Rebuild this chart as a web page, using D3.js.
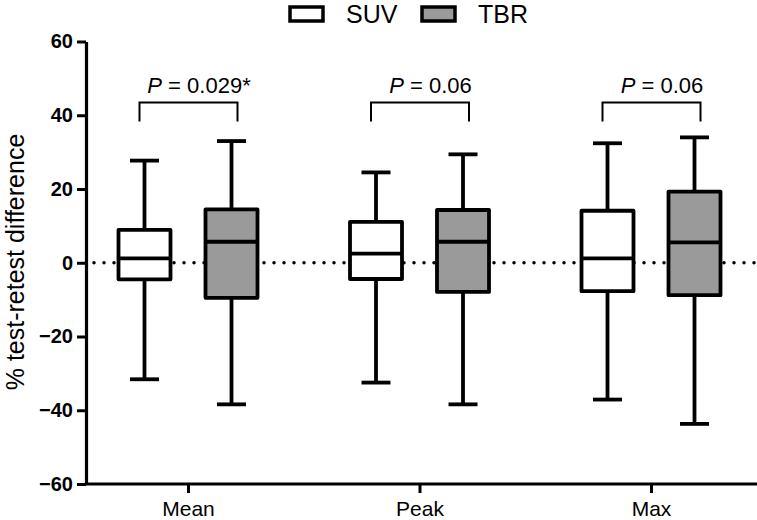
<!DOCTYPE html>
<html>
<head>
<meta charset="utf-8">
<script src="https://cdn.jsdelivr.net/npm/d3@7"></script>
<style>
  body { margin: 0; background: #fff; }
  svg { display: block; }
  text { font-family: "Liberation Sans", Arial, sans-serif; fill: #000; }
</style>
</head>
<body>
<svg id="chart" width="757" height="520"></svg>
<script>
// ---- data ----
const categories = ["Mean", "Peak", "Max"];
const seriesNames = ["SUV", "TBR"];
// [whiskerLow, q1, median, q3, whiskerHigh]
const suvStats = [
  [-31.6, -4.5, 1.2, 8.9, 27.7],
  [-32.5, -4.4, 2.5, 11.1, 24.5],
  [-37.1, -7.7, 1.2, 14.1, 32.4]
];
const tbrStats = [
  [-38.4, -9.5, 5.7, 14.5, 33.0],
  [-38.4, -7.9, 5.7, 14.3, 29.4],
  [-43.7, -8.8, 5.5, 19.3, 34.0]
];
const pLabels = ["P = 0.029*", "P = 0.06", "P = 0.06"];
const yTicks = [-60, -40, -20, 0, 20, 40, 60];

// ---- layout ----
const svg = d3.select("#chart");
const axisX = 86, axisTop = 41.5, axisBottom = 484, rightEdge = 757;
const y = d3.scaleLinear().domain([-60, 60]).range([axisBottom, axisTop]);
const x = d3.scalePoint().domain(categories).range([188, 651]);
const offset = 43.5, boxW = 52, capW = 29;
const colors = { SUV: "#ffffff", TBR: "#9a9a9a" };

// zero dotted line
svg.append("line")
  .attr("x1", axisX + 8).attr("x2", rightEdge - 2)
  .attr("y1", y(0)).attr("y2", y(0))
  .attr("stroke", "#000").attr("stroke-width", 3.5)
  .attr("stroke-linecap", "round").attr("stroke-dasharray", "0,10");

// boxes
function drawBox(stats, cx, fill) {
  const [lo, q1, med, q3, hi] = stats;
  const g = svg.append("g").attr("stroke", "#000").attr("stroke-width", 3.8);
  g.append("line").attr("x1", cx).attr("x2", cx).attr("y1", y(hi)).attr("y2", y(q3));
  g.append("line").attr("x1", cx).attr("x2", cx).attr("y1", y(q1)).attr("y2", y(lo));
  g.append("line").attr("x1", cx - capW / 2).attr("x2", cx + capW / 2).attr("y1", y(hi)).attr("y2", y(hi));
  g.append("line").attr("x1", cx - capW / 2).attr("x2", cx + capW / 2).attr("y1", y(lo)).attr("y2", y(lo));
  g.append("rect").attr("x", cx - boxW / 2).attr("width", boxW)
    .attr("y", y(q3)).attr("height", y(q1) - y(q3))
    .attr("fill", fill).attr("stroke-linejoin", "round");
  g.append("line").attr("x1", cx - boxW / 2).attr("x2", cx + boxW / 2).attr("y1", y(med)).attr("y2", y(med));
}
categories.forEach((c, i) => {
  drawBox(suvStats[i], x(c) - offset, colors.SUV);
  drawBox(tbrStats[i], x(c) + offset, colors.TBR);
});

// significance brackets
const brTop = 102.5, brBottom = 121.5;
categories.forEach((c, i) => {
  const l = x(c) - offset - 5, r = x(c) + offset + 6;
  svg.append("path")
    .attr("d", `M${l},${brBottom}V${brTop}H${r}V${brBottom}`)
    .attr("fill", "none").attr("stroke", "#000").attr("stroke-width", 2);
  const parts = pLabels[i].split(" ");
  const t = svg.append("text")
    .attr("x", x(c) + 11).attr("y", 93)
    .attr("text-anchor", "middle").attr("font-size", 22);
  t.append("tspan").attr("font-style", "italic").text(parts[0]);
  t.append("tspan").text(" " + parts.slice(1).join(" "));
});

// y axis
const yAxis = svg.append("g").attr("transform", `translate(${axisX},0)`)
  .call(d3.axisLeft(y).tickValues(yTicks).tickSize(9).tickSizeOuter(0).tickPadding(4));
yAxis.select(".domain").attr("stroke-width", 3.2).attr("stroke", "#000");
yAxis.selectAll(".tick line").attr("stroke-width", 3).attr("stroke", "#000");
yAxis.selectAll(".tick text").attr("font-size", 20).attr("font-weight", "bold")
  .attr("font-family", "Liberation Sans, Arial, sans-serif").attr("fill", "#000");

// x axis
svg.append("line").attr("x1", axisX).attr("x2", rightEdge)
  .attr("y1", axisBottom).attr("y2", axisBottom)
  .attr("stroke", "#000").attr("stroke-width", 3.2);
const xAxis = svg.append("g").attr("transform", `translate(0,${axisBottom})`)
  .call(d3.axisBottom(x).tickSize(9).tickSizeOuter(0).tickPadding(8));
xAxis.select(".domain").remove();
xAxis.selectAll(".tick line").attr("stroke-width", 3).attr("stroke", "#000");
xAxis.selectAll(".tick text").attr("font-size", 21)
  .attr("font-family", "Liberation Sans, Arial, sans-serif").attr("fill", "#000");

// y label
svg.append("text")
  .attr("transform", `translate(24,262) rotate(-90)`)
  .attr("text-anchor", "middle")
  .attr("font-size", 25)
  .text("% test-retest difference");

// legend
const legendX = [290, 422];
seriesNames.forEach((s, i) => {
  svg.append("rect").attr("x", legendX[i]).attr("y", 7).attr("width", 33).attr("height", 14)
    .attr("fill", colors[s]).attr("stroke", "#000").attr("stroke-width", 3.5);
  svg.append("text").attr("x", legendX[i] + 56).attr("y", 23)
    .attr("font-size", 25).text(s);
});
</script>
</body>
</html>
